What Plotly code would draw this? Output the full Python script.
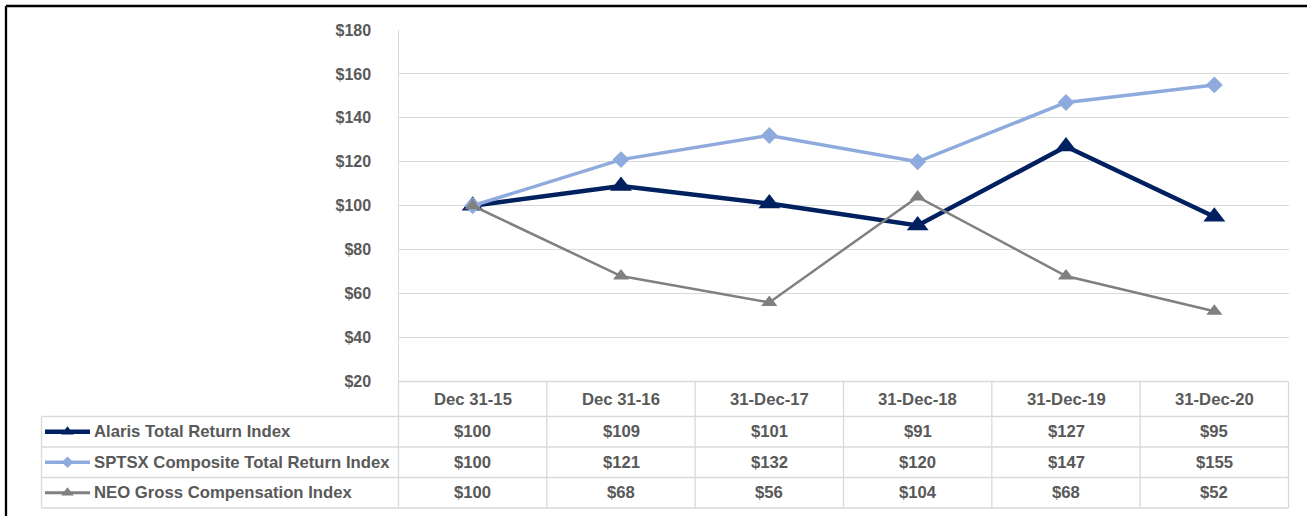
import plotly.graph_objects as go

# ---------------- data ----------------
categories = ["Dec 31-15", "Dec 31-16", "31-Dec-17", "31-Dec-18", "31-Dec-19", "31-Dec-20"]
series_names = ["Alaris Total Return Index",
                "SPTSX Composite Total Return Index",
                "NEO Gross Compensation Index"]
alaris = [100, 109, 101, 91, 127, 95]
sptsx = [100, 121, 132, 120, 147, 155]
neo = [100, 68, 56, 104, 68, 52]
y_ticks = [20, 40, 60, 80, 100, 120, 140, 160, 180]

# ---------------- layout helpers (pixels -> paper) ----------------
W, H = 1307, 516
def fx(px):
    return px / W
def fy(py):
    return 1 - py / H

PLOT_L, PLOT_R, PLOT_T, PLOT_B = 398.5, 1288.5, 30, 381.5
TABLE_L = 41.5
ROW_LINES = [416.5, 447, 477.5, 508]
HEADER_Y = 399
ROW_Y = [431.5, 462, 492.5]
KEY_L, KEY_R = 45, 90
LABEL_X = 92

TEXT = "#595959"
GRID = "#d9d9d9"
FONT = "Liberation Sans, Arial, sans-serif"

styles = [
    dict(color="#002060", width=4.5, symbol="triangle-up", size=19, kw=4.5, ks=11),
    dict(color="#8FAADC", width=3.5, symbol="diamond", size=13, kw=3.5, ks=9),
    dict(color="#808080", width=2.5, symbol="triangle-up", size=14, kw=3, ks=11),
]
values = [alaris, sptsx, neo]

fig = go.Figure()

for name, vals, st in zip(series_names, values, styles):
    fig.add_trace(go.Scatter(
        x=categories, y=vals, name=name, mode="lines+markers",
        line=dict(color=st["color"], width=st["width"]),
        marker=dict(symbol=st["symbol"], size=st["size"], color=st["color"]),
        showlegend=False, cliponaxis=False, xaxis="x", yaxis="y",
    ))

# legend keys inside the data table (own small axes)
for i, (name, st) in enumerate(zip(series_names, styles)):
    fig.add_trace(go.Scatter(
        x=[0, 1], y=[i, i], mode="lines",
        line=dict(color=st["color"], width=st["kw"]),
        showlegend=False, hoverinfo="skip", xaxis="x2", yaxis="y2", cliponaxis=False,
    ))
    fig.add_trace(go.Scatter(
        x=[0.5], y=[i], mode="markers",
        marker=dict(symbol=st["symbol"], size=st["ks"], color=st["color"]),
        showlegend=False, hoverinfo="skip", xaxis="x2", yaxis="y2", cliponaxis=False,
    ))

shapes = []
line_style = dict(color=GRID, width=1.3)
# row lines
for yy in ROW_LINES:
    shapes.append(dict(type="line", xref="paper", yref="paper",
                       x0=fx(TABLE_L), x1=fx(PLOT_R), y0=fy(yy), y1=fy(yy), line=line_style))
# plot bottom / header top
shapes.append(dict(type="line", xref="paper", yref="paper",
                   x0=fx(PLOT_L), x1=fx(PLOT_R), y0=fy(PLOT_B), y1=fy(PLOT_B), line=line_style))
# table left border
shapes.append(dict(type="line", xref="paper", yref="paper",
                   x0=fx(TABLE_L), x1=fx(TABLE_L), y0=fy(ROW_LINES[0]), y1=fy(ROW_LINES[-1]), line=line_style))
# column borders
ncat = len(categories)
cw = (PLOT_R - PLOT_L) / ncat
for k in range(ncat + 1):
    xx = PLOT_L + k * cw
    shapes.append(dict(type="line", xref="paper", yref="paper",
                       x0=fx(xx), x1=fx(xx), y0=fy(PLOT_B), y1=fy(ROW_LINES[-1]), line=line_style))
# outer black frame (top and left)
shapes.append(dict(type="line", xref="paper", yref="paper",
                   x0=fx(6), x1=1, y0=fy(6), y1=fy(6), line=dict(color="black", width=2.3)))
shapes.append(dict(type="line", xref="paper", yref="paper",
                   x0=fx(6), x1=fx(6), y0=fy(6), y1=0, line=dict(color="black", width=2.3)))

annotations = []
tfont = dict(family=FONT, size=16.7, color=TEXT, weight="bold")
for c in categories:
    annotations.append(dict(x=c, xref="x", y=fy(HEADER_Y), yref="paper", text=c,
                            showarrow=False, xanchor="center", yanchor="middle", font=tfont))
for r, (name, vals) in enumerate(zip(series_names, values)):
    annotations.append(dict(x=fx(LABEL_X), xref="paper", y=fy(ROW_Y[r]), yref="paper", text=name,
                            showarrow=False, xanchor="left", yanchor="middle", font=tfont))
    for c, v in zip(categories, vals):
        annotations.append(dict(x=c, xref="x", y=fy(ROW_Y[r]), yref="paper", text=f"${v}",
                                showarrow=False, xanchor="center", yanchor="middle", font=tfont))

fig.update_layout(
    template="none",
    width=W, height=H,
    margin=dict(l=0, r=0, t=0, b=0, pad=0, autoexpand=False),
    paper_bgcolor="white", plot_bgcolor="white",
    xaxis=dict(domain=[fx(PLOT_L), fx(PLOT_R)], type="category", range=[-0.5, ncat - 0.5],
               showticklabels=False, showgrid=False, zeroline=False, showline=False,
               ticks="", automargin=False, fixedrange=True),
    yaxis=dict(domain=[fy(PLOT_B), fy(PLOT_T)], range=[y_ticks[0], y_ticks[-1]],
               tickvals=y_ticks, ticktext=[f"${v}" for v in y_ticks],
               showgrid=True, gridcolor=GRID, gridwidth=1.3, zeroline=False,
               showline=True, linecolor=GRID, linewidth=1.3,
               ticks="", ticklabelstandoff=23, automargin=False,
               tickfont=dict(family=FONT, size=16, color=TEXT, weight="bold"), fixedrange=True),
    xaxis2=dict(domain=[fx(KEY_L), fx(KEY_R)], range=[0, 1], visible=False,
                automargin=False, fixedrange=True),
    yaxis2=dict(domain=[fy(ROW_LINES[-1]), fy(ROW_LINES[0])], range=[2.5, -0.5],
                visible=False, automargin=False, fixedrange=True),
    shapes=shapes, annotations=annotations,
    showlegend=False,
)

fig.write_html("out.html", config={"displayModeBar": False},
               post_script="document.body.style.margin='0px';document.body.style.overflow='hidden';")
